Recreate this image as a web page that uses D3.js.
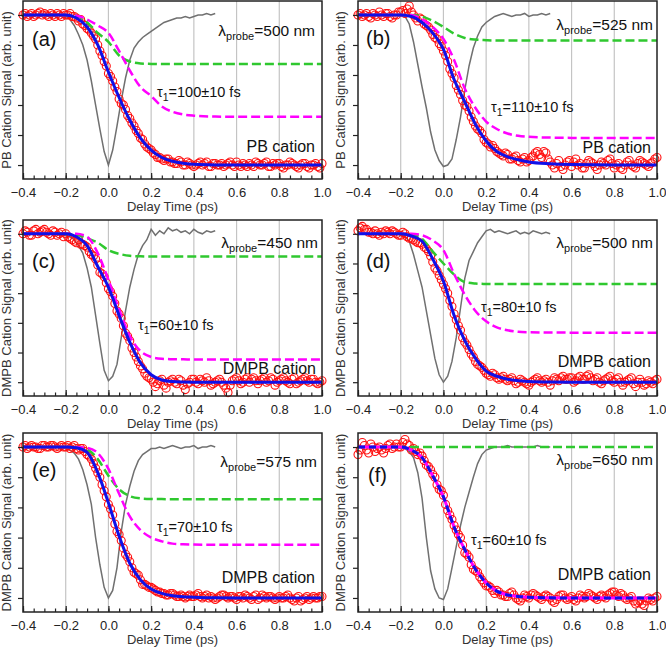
<!DOCTYPE html>
<html>
<head>
<meta charset="utf-8">
<script src="https://cdn.jsdelivr.net/npm/d3@7"></script>
<style>
  body { margin: 0; background: #fff; }
  svg { display: block; font-family: "Liberation Sans", Arial, sans-serif; }
</style>
</head>
<body>
<script>
// sampling grids (ps)
const dataTime = d3.range(141).map(i => +(-0.4 + i * 0.01).toFixed(2));
const irfTime = d3.range(46).map(i => +(-0.4 + i * 0.02).toFixed(2));
const fitTime = [-0.4, -0.3, -0.2, -0.15, -0.1, -0.05, 0, 0.05, 0.1, 0.15, 0.2, 0.25, 0.3, 0.35, 0.4, 0.5, 0.6, 0.8, 1.0];

const panelLabels = ["(a)", "(b)", "(c)", "(d)", "(e)", "(f)"];
const probeWavelengths = [500, 525, 450, 500, 575, 650];
const tau1Values = [100, 110, 60, 80, 70, 60];
const cationNames = ["PB", "PB", "DMPB", "DMPB", "DMPB", "DMPB"];

// measured cation signal (red circles), one row per 0.1 ps
const signalA = [
  1.00, 1.01, 0.99, 1.00, 1.01, 0.99, 1.00, 1.01, 1.02, 1.00,
  1.01, 1.00, 0.99, 1.01, 1.00, 0.99, 1.01, 1.00, 0.99, 1.01,
  1.00, 1.00, 1.01, 0.99, 0.99, 0.98, 0.96, 0.97, 0.94, 0.93,
  0.91, 0.90, 0.88, 0.86, 0.84, 0.80, 0.76, 0.73, 0.69, 0.66,
  0.61, 0.59, 0.56, 0.52, 0.49, 0.44, 0.41, 0.40, 0.37, 0.33,
  0.31, 0.28, 0.26, 0.23, 0.21, 0.18, 0.17, 0.14, 0.12, 0.11,
  0.10, 0.08, 0.07, 0.05, 0.05, 0.04, 0.03, 0.04, 0.04, 0.02,
  0.02, 0.01, 0.01, 0.03, 0.02, 0.00, 0.00, 0.02, 0.01, 0.00,
  -0.01, 0.00, 0.01, 0.02, 0.00, 0.01, 0.02, -0.01, -0.01, 0.01,
  0.01, 0.00, 0.00, 0.01, -0.01, 0.00, 0.01, 0.02, 0.00, -0.01,
  0.02, 0.00, -0.01, 0.01, 0.00, -0.01, 0.01, 0.00, -0.01, 0.02,
  0.01, 0.00, 0.00, 0.01, 0.02, -0.01, -0.01, 0.01, 0.00, 0.01,
  0.01, -0.01, -0.02, 0.00, 0.00, 0.02, 0.01, 0.00, -0.01, -0.02,
  0.00, 0.01, 0.01, -0.01, -0.02, 0.00, 0.00, 0.01, -0.01, -0.02,
  0.01];
const signalB = [
  1.00, 1.01, 0.99, 1.00, 1.01, 0.99, 0.98, 1.01, 1.00, 0.99,
  1.02, 1.00, 0.99, 1.01, 1.01, 0.99, 0.98, 1.00, 1.00, 1.02,
  1.02, 1.03, 1.01, 1.04, 1.06, 1.02, 1.00, 0.98, 0.96, 0.98,
  0.97, 0.94, 0.93, 0.92, 0.90, 0.87, 0.85, 0.84, 0.81, 0.79,
  0.76, 0.73, 0.69, 0.64, 0.61, 0.58, 0.53, 0.50, 0.47, 0.43,
  0.40, 0.39, 0.36, 0.32, 0.29, 0.26, 0.24, 0.23, 0.21, 0.17,
  0.15, 0.14, 0.12, 0.13, 0.11, 0.09, 0.08, 0.07, 0.06, 0.08,
  0.07, 0.04, 0.04, 0.05, 0.06, 0.03, 0.02, 0.04, 0.05, 0.02,
  0.03, 0.05, 0.06, 0.08, 0.09, 0.07, 0.05, 0.09, 0.08, 0.04,
  0.02, 0.00, -0.02, 0.01, 0.03, -0.01, -0.03, 0.00, 0.02, 0.03,
  -0.01, 0.02, 0.04, 0.00, 0.01, -0.02, -0.02, 0.01, 0.03, 0.02,
  0.01, -0.01, -0.03, 0.00, 0.02, 0.01, 0.00, 0.03, 0.04, 0.01,
  -0.02, 0.00, 0.01, -0.02, -0.03, 0.00, 0.02, 0.03, 0.00, -0.01,
  -0.02, 0.01, 0.03, 0.02, 0.01, 0.00, -0.01, 0.01, 0.02, 0.04,
  0.05];
const signalC = [
  1.00, 1.02, 1.01, 0.99, 0.99, 1.02, 1.03, 1.00, 1.01, 1.02,
  1.03, 1.01, 1.00, 0.99, 1.02, 1.01, 0.99, 1.00, 1.01, 0.98,
  1.00, 0.98, 0.97, 0.96, 0.95, 0.94, 0.96, 0.93, 0.93, 0.92,
  0.91, 0.88, 0.86, 0.85, 0.83, 0.79, 0.74, 0.73, 0.71, 0.67,
  0.63, 0.61, 0.58, 0.53, 0.48, 0.46, 0.43, 0.38, 0.33, 0.31,
  0.28, 0.23, 0.20, 0.17, 0.14, 0.11, 0.09, 0.06, 0.04, 0.03,
  0.02, 0.00, -0.03, -0.01, 0.01, 0.02, -0.02, -0.04, 0.00, 0.01,
  0.02, 0.00, -0.01, 0.02, 0.01, -0.02, -0.05, -0.01, 0.00, 0.02,
  0.02, 0.00, -0.01, 0.02, 0.01, 0.00, 0.03, 0.01, -0.02, -0.01,
  0.00, 0.01, 0.02, 0.00, -0.02, -0.04, -0.07, -0.02, 0.01, 0.02,
  0.03, 0.01, -0.01, 0.00, 0.02, 0.03, 0.00, 0.02, 0.03, 0.01,
  -0.01, 0.01, 0.02, 0.03, 0.00, 0.01, 0.03, 0.02, -0.02, 0.00,
  0.01, 0.02, 0.03, 0.01, 0.00, -0.01, 0.02, 0.03, -0.01, 0.00,
  0.01, 0.02, 0.03, 0.01, 0.00, 0.02, 0.02, 0.00, -0.01, 0.00,
  0.01];
const signalD = [
  1.02, 1.04, 1.05, 1.03, 1.03, 1.01, 1.01, 1.00, 1.02, 1.00,
  0.99, 1.01, 1.00, 1.02, 1.01, 1.00, 1.02, 1.01, 1.00, 0.99,
  0.99, 1.01, 1.00, 0.98, 0.97, 0.97, 0.96, 0.95, 0.94, 0.94,
  0.93, 0.91, 0.90, 0.88, 0.85, 0.81, 0.77, 0.75, 0.72, 0.69,
  0.66, 0.63, 0.60, 0.55, 0.51, 0.46, 0.42, 0.38, 0.35, 0.30,
  0.27, 0.25, 0.22, 0.19, 0.17, 0.14, 0.12, 0.11, 0.10, 0.08,
  0.06, 0.05, 0.04, 0.06, 0.05, 0.03, 0.02, 0.03, 0.04, 0.02,
  0.01, 0.02, 0.03, 0.01, -0.01, 0.00, 0.02, 0.01, 0.00, -0.01,
  -0.02, 0.00, 0.01, 0.02, 0.03, 0.01, 0.00, 0.01, 0.02, 0.00,
  -0.02, 0.01, 0.03, 0.02, 0.01, 0.03, 0.04, 0.02, 0.02, 0.03,
  0.03, 0.00, 0.01, 0.03, 0.04, 0.02, 0.02, 0.04, 0.05, 0.03,
  0.01, 0.02, 0.03, 0.00, -0.01, 0.01, 0.02, 0.03, 0.04, 0.01,
  0.00, 0.02, 0.03, 0.00, -0.02, 0.00, 0.01, 0.02, 0.03, -0.01,
  -0.03, 0.00, 0.02, 0.00, -0.02, -0.01, 0.01, 0.00, -0.01, 0.01,
  0.02];
const signalE = [
  1.00, 1.01, 0.99, 1.00, 1.01, 1.00, 1.00, 0.99, 0.99, 1.01,
  1.01, 1.00, 1.00, 1.01, 1.01, 1.00, 0.99, 1.00, 1.01, 1.00,
  1.00, 1.01, 0.99, 1.00, 1.01, 0.99, 0.98, 0.99, 0.99, 0.97,
  0.95, 0.94, 0.92, 0.89, 0.86, 0.83, 0.80, 0.75, 0.71, 0.67,
  0.62, 0.59, 0.55, 0.49, 0.44, 0.42, 0.38, 0.33, 0.29, 0.27,
  0.24, 0.20, 0.17, 0.16, 0.15, 0.12, 0.09, 0.09, 0.08, 0.07,
  0.07, 0.06, 0.05, 0.04, 0.04, 0.03, 0.03, 0.02, 0.02, 0.03,
  0.03, 0.02, 0.01, 0.01, 0.02, 0.01, 0.00, 0.01, 0.02, 0.01,
  0.01, 0.02, 0.03, 0.01, 0.00, 0.01, 0.02, 0.00, 0.01, 0.00,
  -0.01, 0.00, 0.01, 0.02, 0.02, 0.01, 0.00, 0.01, 0.01, 0.00,
  -0.01, 0.01, 0.01, 0.00, 0.02, 0.01, 0.00, -0.01, 0.01, 0.02,
  -0.01, 0.00, 0.02, 0.01, 0.00, 0.01, 0.01, 0.00, -0.01, 0.00,
  0.01, 0.00, 0.00, 0.01, 0.02, 0.00, -0.01, -0.02, 0.00, 0.01,
  -0.02, -0.01, 0.00, 0.01, -0.01, 0.00, 0.01, 0.00, 0.00, 0.01,
  0.01];
const signalF = [
  0.95, 0.98, 1.03, 1.01, 0.98, 0.96, 1.02, 1.00, 0.97, 0.99,
  1.00, 0.98, 0.96, 0.99, 1.01, 1.02, 0.99, 1.00, 1.02, 1.00,
  1.00, 1.03, 1.05, 1.02, 1.01, 0.98, 0.99, 0.97, 0.95, 0.96,
  0.94, 0.91, 0.88, 0.87, 0.85, 0.82, 0.80, 0.75, 0.72, 0.71,
  0.68, 0.62, 0.58, 0.55, 0.52, 0.48, 0.45, 0.42, 0.40, 0.35,
  0.30, 0.29, 0.27, 0.22, 0.19, 0.18, 0.17, 0.14, 0.12, 0.10,
  0.08, 0.08, 0.07, 0.05, 0.03, 0.05, 0.04, 0.02, 0.02, 0.01,
  0.01, 0.03, 0.04, 0.02, 0.00, -0.01, -0.02, 0.00, 0.02, 0.01,
  0.00, 0.02, 0.03, 0.02, 0.01, 0.00, -0.01, 0.01, 0.02, 0.01,
  0.00, -0.02, -0.03, -0.01, 0.01, 0.02, 0.02, 0.00, -0.01, 0.00,
  0.01, -0.01, -0.02, 0.00, 0.02, 0.01, 0.00, 0.01, 0.03, 0.02,
  0.01, 0.00, -0.01, 0.01, 0.02, 0.01, 0.00, 0.02, 0.03, 0.04,
  0.04, 0.02, 0.01, 0.03, 0.02, 0.00, -0.01, 0.00, 0.01, -0.02,
  -0.04, -0.03, -0.02, -0.04, -0.05, -0.02, 0.00, -0.01, -0.02, 0.00,
  0.01];

// cross-correlation (gray)
const irfA = [
  1.00, 1.00, 0.99, 1.00, 1.00, 1.00, 0.99, 1.00, 1.00, 1.00, 0.99,
  0.97, 0.93, 0.87, 0.80, 0.70, 0.56, 0.40, 0.24, 0.09, 0.00,
  0.10, 0.26, 0.43, 0.58, 0.70, 0.78, 0.82, 0.85, 0.87, 0.89,
  0.91, 0.93, 0.95, 0.96, 0.97, 0.98, 0.98, 0.99, 0.98, 0.99,
  1.00, 1.00, 1.01, 1.00, 1.01];
const irfB = [
  1.00, 1.00, 0.99, 1.00, 1.00, 1.00, 1.00, 0.99, 1.00, 1.00, 1.00,
  0.99, 0.94, 0.82, 0.67, 0.52, 0.38, 0.22, 0.10, 0.03, -0.01,
  0.00, 0.04, 0.17, 0.32, 0.50, 0.66, 0.78, 0.86, 0.92, 0.95,
  0.97, 0.99, 1.00, 1.01, 1.00, 0.99, 1.00, 1.00, 1.01, 0.99,
  1.00, 1.00, 1.01, 1.00, 1.01];
const irfC = [
  1.00, 1.00, 1.00, 1.00, 0.99, 1.00, 1.00, 1.00, 1.00, 0.99, 0.99,
  0.98, 0.96, 0.92, 0.87, 0.77, 0.64, 0.45, 0.26, 0.08, 0.01,
  0.04, 0.12, 0.30, 0.48, 0.64, 0.76, 0.86, 0.92, 0.96, 1.03,
  0.99, 1.02, 1.00, 1.04, 1.02, 1.03, 1.01, 1.02, 1.00, 1.03,
  1.01, 1.00, 1.02, 1.01, 1.02];
const irfD = [
  1.00, 1.00, 1.00, 1.00, 1.00, 0.99, 1.00, 1.00, 1.00, 1.00, 0.99,
  0.98, 0.95, 0.86, 0.75, 0.64, 0.48, 0.32, 0.16, 0.05, 0.00,
  0.04, 0.14, 0.30, 0.50, 0.70, 0.82, 0.88, 0.94, 0.98, 1.02,
  1.03, 1.01, 1.02, 1.01, 1.00, 1.01, 1.02, 1.00, 1.01, 1.00,
  1.02, 1.01, 1.00, 1.01, 1.00];
const irfE = [
  1.00, 1.00, 1.00, 0.99, 1.00, 1.00, 1.00, 1.00, 1.00, 0.99, 0.99,
  0.98, 0.96, 0.92, 0.85, 0.75, 0.62, 0.40, 0.22, 0.07, 0.00,
  0.05, 0.20, 0.44, 0.62, 0.74, 0.84, 0.91, 0.95, 0.97, 0.99,
  0.99, 1.00, 0.99, 1.00, 1.01, 1.00, 0.99, 1.00, 1.00, 1.01,
  0.99, 1.00, 1.00, 1.01, 1.00];
const irfF = [
  1.00, 1.00, 1.00, 1.00, 1.00, 1.00, 0.99, 1.00, 1.00, 1.00, 0.99,
  0.99, 0.97, 0.93, 0.83, 0.66, 0.40, 0.18, 0.06, 0.00, -0.01,
  0.06, 0.20, 0.34, 0.48, 0.60, 0.70, 0.80, 0.89, 0.95, 0.98,
  0.99, 1.00, 1.00, 1.00, 1.01, 1.00, 1.00, 1.00, 1.00, 1.00,
  1.00, 1.01, 1.00, 1.00, 1.00];

// fits on fitTime: total (blue), slow component (green), fast component (magenta)
const totalA = [1, 1, 1, 0.98, 0.92, 0.80, 0.62, 0.45, 0.30, 0.18, 0.10, 0.05, 0.025, 0.012, 0.005, 0.001, 0, 0, 0];
const greenA = [1, 1, 1, 0.995, 0.95, 0.88, 0.82, 0.73, 0.69, 0.677, 0.674, 0.673, 0.673, 0.673, 0.673, 0.673, 0.673, 0.673, 0.673];
const magentaA = [1, 1, 1, 0.995, 0.97, 0.93, 0.88, 0.76, 0.63, 0.52, 0.46, 0.39, 0.355, 0.337, 0.329, 0.323, 0.322, 0.322, 0.322];

const totalB = [1, 1, 1, 0.99, 0.95, 0.88, 0.77, 0.57, 0.42, 0.27, 0.16, 0.09, 0.055, 0.035, 0.02, 0.008, 0.003, 0, 0];
const greenB = [1, 1, 1, 1, 0.99, 0.96, 0.92, 0.875, 0.847, 0.836, 0.832, 0.83, 0.83, 0.83, 0.83, 0.83, 0.83, 0.83, 0.83];
const magentaB = [1, 1, 1, 1, 0.97, 0.92, 0.84, 0.70, 0.51, 0.38, 0.29, 0.24, 0.21, 0.195, 0.188, 0.183, 0.181, 0.18, 0.18];

const totalC = [1, 1, 1, 0.98, 0.92, 0.78, 0.64, 0.45, 0.27, 0.13, 0.05, 0.015, 0.004, 0.001, 0, 0, 0, 0, 0];
const greenC = [1, 1, 1, 0.995, 0.97, 0.94, 0.89, 0.865, 0.852, 0.848, 0.847, 0.847, 0.847, 0.847, 0.847, 0.847, 0.847, 0.847, 0.847];
const magentaC = [1, 1, 1, 1, 0.98, 0.87, 0.69, 0.49, 0.31, 0.21, 0.17, 0.158, 0.155, 0.154, 0.153, 0.153, 0.153, 0.153, 0.153];

const totalD = [1, 1, 1, 0.985, 0.95, 0.83, 0.68, 0.45, 0.28, 0.16, 0.075, 0.04, 0.02, 0.01, 0.005, 0.001, 0, 0, 0];
const greenD = [1, 1, 1, 0.995, 0.965, 0.88, 0.80, 0.725, 0.675, 0.665, 0.662, 0.661, 0.661, 0.661, 0.661, 0.661, 0.661, 0.661, 0.661];
const magentaD = [1, 1, 1, 1, 0.99, 0.955, 0.89, 0.73, 0.59, 0.48, 0.41, 0.37, 0.35, 0.34, 0.337, 0.335, 0.334, 0.334, 0.334];

const totalE = [1, 1, 1, 0.995, 0.965, 0.83, 0.63, 0.41, 0.23, 0.12, 0.06, 0.03, 0.015, 0.008, 0.005, 0.001, 0, 0, 0];
const greenE = [1, 1, 1, 1, 0.985, 0.92, 0.81, 0.72, 0.675, 0.66, 0.656, 0.655, 0.654, 0.654, 0.654, 0.654, 0.654, 0.654, 0.654];
const magentaE = [1, 1, 1, 1, 0.995, 0.96, 0.855, 0.69, 0.54, 0.45, 0.40, 0.375, 0.36, 0.356, 0.354, 0.353, 0.353, 0.353, 0.353];

const totalF = [1, 1, 1, 0.98, 0.93, 0.81, 0.67, 0.47, 0.32, 0.19, 0.10, 0.045, 0.02, 0.01, 0.005, 0.001, 0, 0, 0];
const greenF = [1, 1, 1, 1, 1, 1, 1, 1, 1, 1, 1, 1, 1, 1, 1, 1, 1, 1, 1];
const magentaF = [1, 1, 1, 0.98, 0.93, 0.81, 0.67, 0.47, 0.32, 0.19, 0.10, 0.045, 0.02, 0.01, 0.005, 0.001, 0, 0, 0];

const majorTicks = [-0.4, -0.2, 0, 0.2, 0.4, 0.6, 0.8, 1.0];
const minorTicks = d3.range(29).map(i => +(-0.4 + i * 0.05).toFixed(2));
const gridTicks = [-0.2, 0, 0.2, 0.4, 0.6, 0.8];
const yTicks = [0, 0.2, 0.4, 0.6, 0.8, 1.0];

// layout
const width = 666, height = 647;
const cols = [{ x0: 23, x1: 322, yl: 11 }, { x0: 358, x1: 657, yl: 345 }];
const rows = [{ y0: 1, y1: 179 }, { y0: 220, y1: 396 }, { y0: 433, y1: 612 }];

const panels = [
  { col: 0, row: 0, signal: signalA, irf: irfA, total: totalA, green: greenA, magenta: magentaA,
    lab: [9, 45], lam: [7, 35], tau: [134, 96], cat: [7, 151] },
  { col: 1, row: 0, signal: signalB, irf: irfB, total: totalB, green: greenB, magenta: magentaB,
    lab: [8, 44], lam: [4, 29], tau: [133, 111], cat: [6, 152] },
  { col: 0, row: 1, signal: signalC, irf: irfC, total: totalC, green: greenC, magenta: magentaC,
    lab: [9, 48], lam: [4, 28], tau: [115, 110], cat: [6, 154] },
  { col: 1, row: 1, signal: signalD, irf: irfD, total: totalD, green: greenD, magenta: magentaD,
    lab: [8, 48], lam: [4, 28], tau: [123, 92], cat: [6, 147] },
  { col: 0, row: 2, signal: signalE, irf: irfE, total: totalE, green: greenE, magenta: magentaE,
    lab: [9, 44], lam: [5, 34], tau: [134, 99], cat: [7, 150] },
  { col: 1, row: 2, signal: signalF, irf: irfF, total: totalF, green: greenF, magenta: magentaF,
    lab: [10, 49], lam: [4, 32], tau: [113, 112], cat: [6, 147], overlap: true }
];

const svg = d3.select("body").append("svg")
    .attr("width", width)
    .attr("height", height);

panels.forEach((p, i) => {
    const c = cols[p.col], r = rows[p.row];
    const x = d3.scaleLinear().domain([-0.4, 1.0]).range([c.x0, c.x1]);
    const y = d3.scaleLinear().domain([-0.093, 1.093]).range([r.y1, r.y0]);
    const g = svg.append("g");

    // vertical grid lines
    g.selectAll(".grid").data(gridTicks).join("line")
        .attr("x1", d => x(d)).attr("x2", d => x(d))
        .attr("y1", r.y0).attr("y2", r.y1)
        .attr("stroke", "#c4c4c4").attr("stroke-width", 1.2);

    // cross-correlation
    g.append("path")
        .datum(irfTime.map((t, k) => [t, p.irf[k]]))
        .attr("fill", "none").attr("stroke", "#707070").attr("stroke-width", 1.5)
        .attr("d", d3.line().x(d => x(d[0])).y(d => y(d[1])));

    // data points
    g.selectAll(".pt").data(dataTime.map((t, k) => [t, p.signal[k]])).join("circle")
        .attr("cx", d => x(d[0])).attr("cy", d => y(d[1])).attr("r", 4)
        .attr("fill", "none").attr("stroke", "#ff1010").attr("stroke-width", 1.1);

    const fitLine = vals => d3.line()
        .x((d, k) => x(fitTime[k])).y(d => y(d))
        .curve(d3.curveMonotoneX)(vals);

    g.append("path").attr("d", fitLine(p.green))
        .attr("fill", "none").attr("stroke", "#2fc82f").attr("stroke-width", 2.5)
        .attr("stroke-dasharray", "9,4");
    if (p.overlap) {
        g.append("path").attr("d", fitLine(p.magenta))
            .attr("fill", "none").attr("stroke", "#ff00ff").attr("stroke-width", 3);
        g.append("path").attr("d", fitLine(p.total))
            .attr("fill", "none").attr("stroke", "#1010e8").attr("stroke-width", 3)
            .attr("stroke-dasharray", "7,4");
    } else {
        g.append("path").attr("d", fitLine(p.magenta))
            .attr("fill", "none").attr("stroke", "#ff00ff").attr("stroke-width", 2.5)
            .attr("stroke-dasharray", "9,4");
        g.append("path").attr("d", fitLine(p.total))
            .attr("fill", "none").attr("stroke", "#1010e8").attr("stroke-width", 3);
    }

    // axes
    const xAxis = g.append("g").attr("transform", `translate(0,${r.y1})`)
        .call(d3.axisBottom(x).tickValues(majorTicks).tickSizeInner(-6).tickSizeOuter(0)
            .tickPadding(9).tickFormat(d3.format(".1f")));
    xAxis.select(".domain").remove();
    xAxis.selectAll("line").attr("stroke", "#222").attr("stroke-width", 1.2);
    xAxis.selectAll("text").attr("font-size", 13).attr("fill", "#222")
        .attr("font-family", "Liberation Sans, Arial, sans-serif");

    const xMinor = g.append("g").attr("transform", `translate(0,${r.y1})`)
        .call(d3.axisBottom(x).tickValues(minorTicks).tickSizeInner(-3.5).tickSizeOuter(0).tickFormat(""));
    xMinor.select(".domain").remove();
    xMinor.selectAll("line").attr("stroke", "#222").attr("stroke-width", 1.2);

    const yAxis = g.append("g").attr("transform", `translate(${c.x0},0)`)
        .call(d3.axisLeft(y).tickValues(yTicks).tickSizeInner(5).tickSizeOuter(0).tickFormat(""));
    yAxis.select(".domain").remove();
    yAxis.selectAll("line").attr("stroke", "#222").attr("stroke-width", 1.2);

    g.append("rect")
        .attr("x", c.x0).attr("y", r.y0)
        .attr("width", c.x1 - c.x0).attr("height", r.y1 - r.y0)
        .attr("fill", "none").attr("stroke", "#222").attr("stroke-width", 1.5);

    // axis titles
    g.append("text")
        .attr("x", (c.x0 + c.x1) / 2).attr("y", r.y1 + 32)
        .attr("text-anchor", "middle").attr("font-size", 13).attr("fill", "#333")
        .text("Delay Time (ps)");
    g.append("text")
        .attr("transform", `translate(${c.yl},${(r.y0 + r.y1) / 2}) rotate(-90)`)
        .attr("text-anchor", "middle").attr("font-size", 13).attr("fill", "#333")
        .text(`${cationNames[i]} Cation Signal (arb. unit)`);

    // annotations
    g.append("text")
        .attr("x", c.x0 + p.lab[0]).attr("y", r.y0 + p.lab[1])
        .attr("font-size", 20).attr("fill", "#111")
        .text(panelLabels[i]);

    const lam = g.append("text")
        .attr("x", c.x1 - p.lam[0]).attr("y", r.y0 + p.lam[1])
        .attr("text-anchor", "end").attr("font-size", 15.5).attr("fill", "#111");
    lam.append("tspan").text("λ");
    lam.append("tspan").attr("font-size", 11).attr("dy", 4).text("probe");
    lam.append("tspan").attr("dy", -4).text(`=${probeWavelengths[i]} nm`);

    const tau = g.append("text")
        .attr("x", c.x0 + p.tau[0]).attr("y", r.y0 + p.tau[1])
        .attr("font-size", 14.5).attr("fill", "#111");
    tau.append("tspan").text("τ");
    tau.append("tspan").attr("font-size", 10.5).attr("dy", 3.5).text("1");
    tau.append("tspan").attr("dy", -3.5).text(`=${tau1Values[i]}±10 fs`);

    g.append("text")
        .attr("x", c.x1 - p.cat[0]).attr("y", r.y0 + p.cat[1])
        .attr("text-anchor", "end").attr("font-size", 16).attr("fill", "#111")
        .text(`${cationNames[i]} cation`);
});
</script>
</body>
</html>
